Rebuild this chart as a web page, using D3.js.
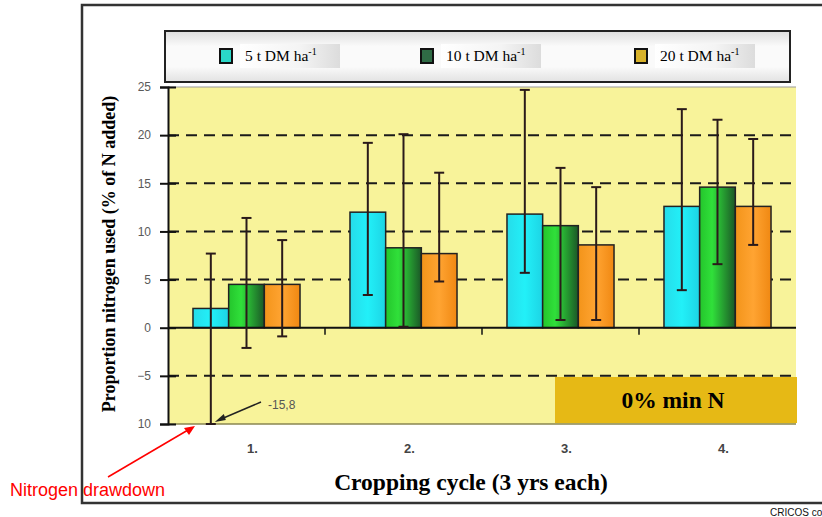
<!DOCTYPE html>
<html>
<head>
<meta charset="utf-8">
<script src="https://cdn.jsdelivr.net/npm/d3@7"></script>
<style>
  body { margin: 0; background: #fff; }
  svg { display: block; }
</style>
</head>
<body>
<script>
// data
const categories = ["1.", "2.", "3.", "4."];
const seriesNames = ["5 t DM ha", "10 t DM ha", "20 t DM ha"];
const mean5 = [2.0, 12.0, 11.8, 12.6];
const mean10 = [4.5, 8.3, 10.6, 14.6];
const mean20 = [4.5, 7.7, 8.6, 12.6];
const hi5 = [7.7, 19.2, 24.7, 22.7];
const lo5 = [-15.8, 3.4, 5.7, 3.9];
const hi10 = [11.4, 20.1, 16.6, 21.6];
const lo10 = [-2.1, 0.1, 0.8, 6.6];
const hi20 = [9.1, 16.1, 14.6, 19.6];
const lo20 = [-0.9, 4.8, 0.8, 8.6];
const yTicks = [25, 20, 15, 10, 5, 0, -5, -10];

const width = 822, height = 517;
const plot = { left: 168, right: 796, top: 87, bottom: 424 };

const svg = d3.select('body').append('svg')
  .attr('width', width)
  .attr('height', height);

const defs = svg.append('defs');
function hgrad(id, stops) {
  const g = defs.append('linearGradient').attr('id', id)
    .attr('x1', 0).attr('x2', 1).attr('y1', 0).attr('y2', 0);
  stops.forEach(s => g.append('stop').attr('offset', s[0]).attr('stop-color', s[1]));
}
hgrad('gCyan', [[0, '#26dcea'], [0.5, '#22f0f8'], [1, '#1dd4e4']]);
hgrad('gGreen', [[0, '#24c52c'], [0.35, '#30e03a'], [1, '#1b5727']]);
hgrad('gOrange', [[0, '#f3941a'], [0.5, '#ffa432'], [1, '#f08812']]);
hgrad('gLabel', [[0, '#ffffff'], [0.6, '#f4f4f4'], [1, '#dcdcdc']]);
const lg = defs.append('linearGradient').attr('id', 'gLegend')
  .attr('x1', 0).attr('x2', 0).attr('y1', 0).attr('y2', 1);
[[0, '#dedede'], [0.3, '#fafafa'], [0.7, '#fafafa'], [1, '#e2e2e2']]
  .forEach(s => lg.append('stop').attr('offset', s[0]).attr('stop-color', s[1]));

const fills = ['url(#gCyan)', 'url(#gGreen)', 'url(#gOrange)'];
const swatch = ['#2ad8c8', '#2f6b45', '#d8b22a'];

const y = d3.scaleLinear().domain([-10, 25]).range([plot.bottom, plot.top]);
const x0 = d3.scaleBand().domain(categories).range([plot.left, plot.right]);
const x1 = d3.scaleBand().domain(seriesNames).range([0, x0.bandwidth()])
  .paddingOuter(0.7);

// outer frame
svg.append('rect')
  .attr('x', 82).attr('y', 5).attr('width', 800).attr('height', 498)
  .attr('fill', 'none').attr('stroke', '#333').attr('stroke-width', 2.5);

// plot background
svg.append('rect')
  .attr('x', plot.left).attr('y', plot.top)
  .attr('width', plot.right - plot.left).attr('height', plot.bottom - plot.top)
  .attr('fill', '#f8f39a');
svg.append('line')
  .attr('x1', plot.left).attr('x2', plot.right)
  .attr('y1', plot.top).attr('y2', plot.top)
  .attr('stroke', '#999').attr('stroke-width', 1);
svg.append('line')
  .attr('x1', plot.left).attr('x2', plot.right)
  .attr('y1', plot.bottom).attr('y2', plot.bottom)
  .attr('stroke', '#8a8650').attr('stroke-width', 1.5);

// dashed grid
svg.append('g').selectAll('line')
  .data(yTicks.filter(d => d !== 0 && d !== 25 && d !== -10))
  .join('line')
  .attr('x1', plot.left).attr('x2', plot.right)
  .attr('y1', d => y(d)).attr('y2', d => y(d))
  .attr('stroke', '#1a1a1a').attr('stroke-width', 2)
  .attr('stroke-dasharray', '11,7');

// bars
const seriesMeans = [mean5, mean10, mean20];
const seriesHi = [hi5, hi10, hi20];
const seriesLo = [lo5, lo10, lo20];
const rows = [];
categories.forEach((c, i) => {
  seriesNames.forEach((s, j) => {
    rows.push({ c, s, j, v: seriesMeans[j][i], hi: seriesHi[j][i], lo: seriesLo[j][i] });
  });
});

svg.append('g').selectAll('rect')
  .data(rows)
  .join('rect')
  .attr('x', d => x0(d.c) + x1(d.s))
  .attr('y', d => y(Math.max(0, d.v)))
  .attr('width', x1.bandwidth())
  .attr('height', d => Math.abs(y(d.v) - y(0)))
  .attr('fill', d => fills[d.j])
  .attr('stroke', '#222').attr('stroke-width', 1.5);

// zero line + x ticks
svg.append('line')
  .attr('x1', plot.left).attr('x2', plot.right)
  .attr('y1', y(0)).attr('y2', y(0))
  .attr('stroke', '#111').attr('stroke-width', 2);
svg.append('g').selectAll('line')
  .data(categories.slice(1))
  .join('line')
  .attr('x1', d => x0(d)).attr('x2', d => x0(d))
  .attr('y1', y(0)).attr('y2', y(0) + 7)
  .attr('stroke', '#111').attr('stroke-width', 1.5);

// error bars
const eb = svg.append('g').attr('stroke', '#2a1a1a').attr('stroke-width', 2);
const clamp = v => Math.max(-10, Math.min(25, v));
rows.forEach(d => {
  const cx = x0(d.c) + x1(d.s) + x1.bandwidth() / 2;
  eb.append('line').attr('x1', cx).attr('x2', cx)
    .attr('y1', y(clamp(d.hi))).attr('y2', y(clamp(d.lo)));
  [d.hi, d.lo].forEach(v => {
    eb.append('line').attr('x1', cx - 5).attr('x2', cx + 5)
      .attr('y1', y(clamp(v))).attr('y2', y(clamp(v)));
  });
});

// y axis
const yAxis = d3.axisLeft(y).tickValues(yTicks).tickSize(8).tickPadding(9)
  .tickFormat(d3.format('d'));
const ya = svg.append('g').attr('transform', `translate(${plot.left},0)`).call(yAxis);
ya.select('.domain').attr('stroke', '#111').attr('stroke-width', 2);
ya.selectAll('.tick line').attr('stroke', '#111').attr('stroke-width', 2)
  .attr('x2', 8).attr('x1', -8);
ya.selectAll('.tick text')
  .attr('font-family', 'Liberation Sans, Arial, sans-serif')
  .attr('font-size', 12).attr('fill', '#5a5a5a');

// y title with white backing (it hides the minus of the bottom tick, as in the source)
svg.append('rect').attr('x', 94).attr('y', 84).attr('width', 44).attr('height', 346)
  .attr('fill', '#fff');
svg.append('text')
  .attr('transform', 'translate(115,254) rotate(-90)')
  .attr('text-anchor', 'middle')
  .attr('font-family', 'Liberation Serif, Times New Roman, serif')
  .attr('font-weight', 'bold').attr('font-size', 18)
  .text('Proportion nitrogen used (% of N added)');

// x labels
svg.append('g').selectAll('text')
  .data(categories)
  .join('text')
  .attr('x', d => x0(d) + x0.bandwidth() / 2 + 6)
  .attr('y', 453)
  .attr('text-anchor', 'middle')
  .attr('font-family', 'Liberation Sans, Arial, sans-serif')
  .attr('font-weight', 'bold').attr('font-size', 13).attr('fill', '#444')
  .text(d => d);

svg.append('text')
  .attr('x', 471).attr('y', 490)
  .attr('text-anchor', 'middle')
  .attr('font-family', 'Liberation Serif, Times New Roman, serif')
  .attr('font-weight', 'bold').attr('font-size', 23.5)
  .text('Cropping cycle (3 yrs each)');

// legend
svg.append('rect').attr('x', 165).attr('y', 31).attr('width', 625).attr('height', 51)
  .attr('fill', 'url(#gLegend)').attr('stroke', '#222').attr('stroke-width', 2);
const legX = [220, 421, 635];
seriesNames.forEach((s, j) => {
  const g = svg.append('g').attr('transform', `translate(${legX[j]},56)`);
  g.append('rect').attr('x', 20).attr('y', -12).attr('width', 100).attr('height', 24)
    .attr('fill', 'url(#gLabel)');
  g.append('rect').attr('x', 0).attr('y', -7).attr('width', 12).attr('height', 14)
    .attr('fill', swatch[j]).attr('stroke', '#111').attr('stroke-width', 2);
  const t = g.append('text').attr('x', 25).attr('y', 5)
    .attr('font-family', 'Liberation Serif, Times New Roman, serif')
    .attr('font-size', 15.5);
  t.append('tspan').text(s);
  t.append('tspan').attr('dy', -6).attr('font-size', 10).text('-1');
});

// "0% min N" box
svg.append('rect').attr('x', 555).attr('y', 377).attr('width', 242).attr('height', 46)
  .attr('fill', '#e6b915');
svg.append('text').attr('x', 673).attr('y', 408).attr('text-anchor', 'middle')
  .attr('font-family', 'Liberation Serif, Times New Roman, serif')
  .attr('font-weight', 'bold').attr('font-size', 23.5)
  .text('0% min N');

// -15,8 annotation
const cx0 = x0(categories[0]) + x1(seriesNames[0]) + x1.bandwidth() / 2;
svg.append('line').attr('x1', 261).attr('y1', 402).attr('x2', cx0 + 8).attr('y2', 420)
  .attr('stroke', '#222').attr('stroke-width', 1.5);
svg.append('path')
  .attr('d', `M${cx0 + 4},${422} l9,-8 l2,6 z`)
  .attr('fill', '#222');
svg.append('text').attr('x', 268).attr('y', 409)
  .attr('font-family', 'Liberation Sans, Arial, sans-serif')
  .attr('font-size', 12).attr('fill', '#555')
  .text('-15,8');

// red note
svg.append('line').attr('x1', 108).attr('y1', 477).attr('x2', 188).attr('y2', 430)
  .attr('stroke', '#f00').attr('stroke-width', 1.5);
svg.append('path').attr('d', 'M195,426 l-11,2 l5,7 z').attr('fill', '#f00');
svg.append('text').attr('x', 10).attr('y', 496)
  .attr('font-family', 'Liberation Sans, Arial, sans-serif')
  .attr('font-size', 18).attr('fill', '#f00')
  .text('Nitrogen drawdown');

svg.append('text').attr('x', 770).attr('y', 516)
  .attr('font-family', 'Liberation Sans, Arial, sans-serif')
  .attr('font-size', 10).attr('fill', '#111')
  .text('CRICOS co');
</script>
</body>
</html>
